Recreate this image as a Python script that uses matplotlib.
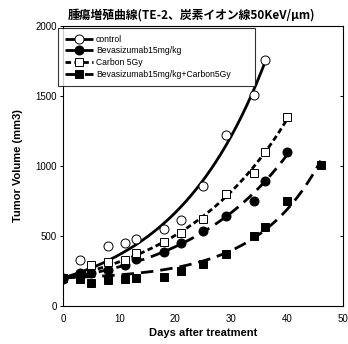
import matplotlib
matplotlib.use("Agg")
import matplotlib.pyplot as plt
import numpy as np
from matplotlib.lines import Line2D

plt.rcParams['font.family'] = ['Liberation Sans', 'Noto Sans CJK JP', 'DejaVu Sans']

# data
ctrl_days = [0, 3, 8, 11, 13, 18, 21, 25, 29, 34, 36]
ctrl_vol = [200, 330, 425, 450, 480, 550, 615, 855, 1220, 1505, 1760]

bev_days = [0, 3, 5, 8, 11, 13, 18, 21, 25, 29, 34, 36, 40]
bev_vol = [195, 236, 234, 258, 294, 337, 385, 449, 537, 640, 753, 896, 1100]

carb_days = [0, 5, 8, 11, 13, 18, 21, 25, 29, 34, 36, 40]
carb_vol = [200, 294, 310, 330, 380, 455, 523, 623, 803, 953, 1100, 1350]

combo_days = [0, 3, 5, 8, 11, 13, 18, 21, 25, 29, 34, 36, 40, 46]
combo_vol = [200, 191, 163, 186, 191, 198, 203, 251, 301, 373, 497, 564, 748, 1004]


def exp_fit(days, vol):
    # y = y0 + a*(exp(b*t) - 1), curve anchored at the day-0 volume
    t = np.asarray(days, float)
    y = np.asarray(vol, float)
    y0 = y[0]
    best = None
    for b in np.linspace(0.01, 0.2, 600):
        g = np.exp(b * t) - 1.0
        a = np.dot(g, y - y0) / np.dot(g, g)
        err = np.sum((y0 + a * g - y) ** 2)
        if best is None or err < best[0]:
            best = (err, b, a)
    _, b, a = best
    tt = np.linspace(t.min(), t.max(), 200)
    return tt, y0 + a * (np.exp(b * tt) - 1.0)


fig = plt.figure(figsize=(3.48, 3.44), dpi=100)
ax = fig.add_axes([0.182, 0.111, 0.804, 0.813])

series = [
    (ctrl_days, ctrl_vol, 'o', 'white', (0, ()), 'control'),
    (bev_days, bev_vol, 'o', 'black', (0, (4, 2.5)), 'Bevasizumab15mg/kg'),
    (carb_days, carb_vol, 's', 'white', (0, (2, 1.2)), 'Carbon 5Gy'),
    (combo_days, combo_vol, 's', 'black', (0, (4.5, 2.5)), 'Bevasizumab15mg/kg+Carbon5Gy'),
]

handles = []
for days, vol, mk, fc, ls, lab in series:
    tt, yy = exp_fit(days, vol)
    ms = 6.5 if mk == 'o' else 5.5
    ax.plot(tt, yy, color='black', lw=2.0, linestyle=ls, zorder=2)
    ax.plot(days, vol, linestyle='none', marker=mk, ms=ms,
            mfc=fc, mec='black', mew=0.7, zorder=3)
    handles.append(Line2D([], [], color='black', lw=2.0, linestyle=ls,
                          marker=mk, ms=ms, mfc=fc, mec='black', mew=0.7,
                          label=lab))

ax.set_xlim(0, 50)
ax.set_ylim(0, 2000)
ax.set_xticks([0, 10, 20, 30, 40, 50])
ax.set_yticks([0, 500, 1000, 1500, 2000])
ax.tick_params(axis='x', length=0, labelsize=7, pad=6)
ax.tick_params(axis='y', length=2.5, labelsize=7, pad=2, right=True, width=0.7,
               direction='out')
for sp in ax.spines.values():
    sp.set_linewidth(0.8)

# right-side ticks point inward
for t in ax.yaxis.get_major_ticks():
    t.tick2line.set_marker(0)
    t.tick2line.set_markersize(2.5)

ax.set_xlabel('Days after treatment', fontsize=8, fontweight='bold', labelpad=3)
ax.set_ylabel('Tumor Volume (mm3)', fontsize=8, fontweight='bold', labelpad=9)
fig.text(0.549, 0.957, '腫瘍増殖曲線(TE-2、炭素イオン線50KeV/μm)', fontsize=8.5,
         fontweight='bold', ha='center', va='center',
         family=['Noto Sans CJK JP', 'DejaVu Sans'])

leg = ax.legend(handles=handles, loc='upper left',
                bbox_to_anchor=(-0.02, 0.995, 0.705, 0.0), mode='expand',
                fontsize=6.2, frameon=True, fancybox=False, edgecolor='black',
                handlelength=3.3, handletextpad=0.3, borderpad=0.85,
                labelspacing=0.3, borderaxespad=0.0)
leg.get_frame().set_linewidth(0.8)

fig.savefig('out.png', dpi=100)
